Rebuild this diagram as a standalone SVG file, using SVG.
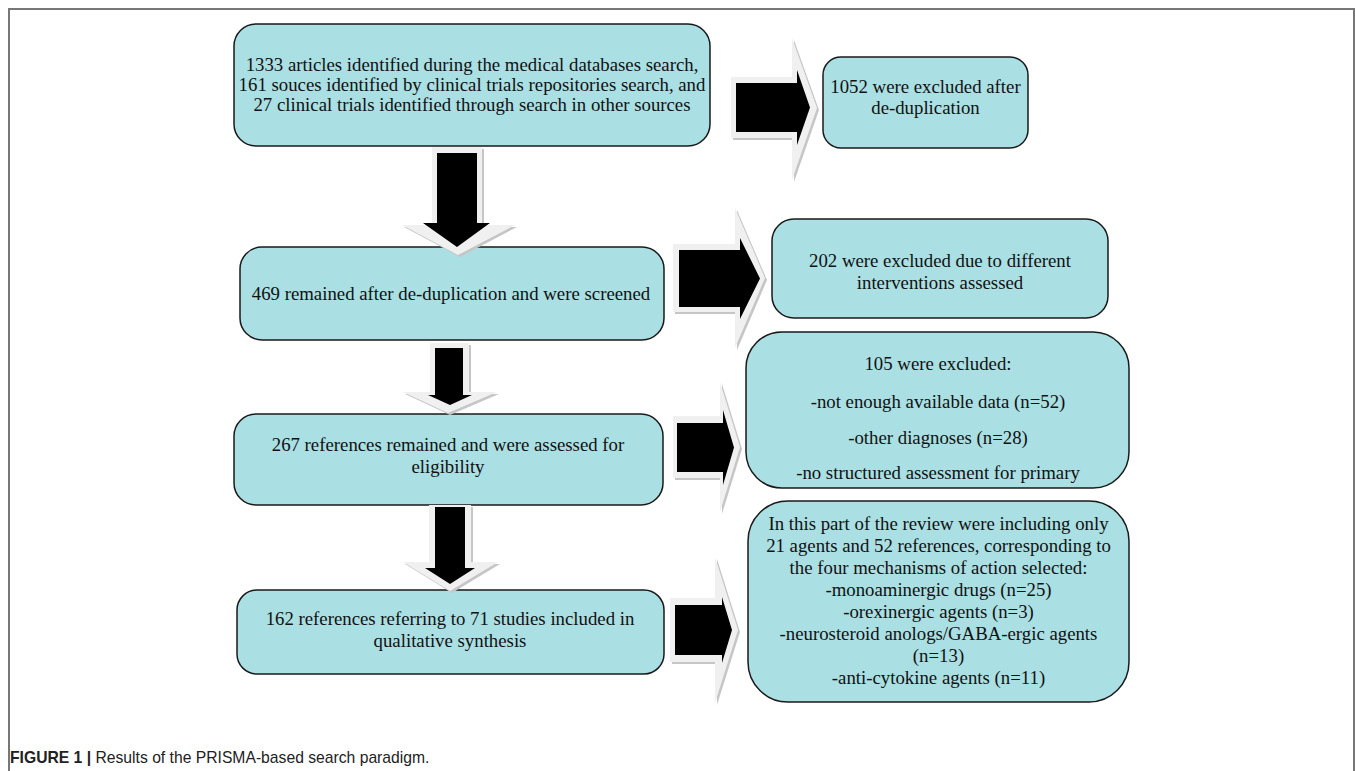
<svg xmlns="http://www.w3.org/2000/svg" width="1355" height="771" viewBox="0 0 1355 771">
<style>
.box{fill:#aadfe3;stroke:#1a1a1a;stroke-width:1.5}
.t{font-family:"Liberation Serif","Times New Roman",serif;font-size:18.8px;fill:#111;text-anchor:middle}
.glow{fill:#f0f0f0}
.sh{fill:#c6c6c6}
.blk{fill:#000}
.cap{font-family:"Liberation Sans",Arial,sans-serif;font-size:15.7px;fill:#222}
</style>
<rect x="0" y="0" width="1355" height="771" fill="#fff"/>
<path d="M9 771 V9 H1354 V771" fill="none" stroke="#777" stroke-width="2"/>

<g id="n1"><rect class="box" x="234" y="24" width="476" height="122" rx="22"/>
<text class="t" x="472" y="71">1333 articles identified during the medical databases search,</text>
<text class="t" x="472" y="91">161 souces identified by clinical trials repositories search, and</text>
<text class="t" x="472" y="111">27 clinical trials identified through search in other sources</text></g>

<g id="n2"><rect class="box" x="823" y="57" width="205" height="91" rx="18"/>
<text class="t" x="925.5" y="93">1052 were excluded after</text>
<text class="t" x="925.5" y="114">de-duplication</text></g>

<g id="n3"><rect class="box" x="240" y="247" width="424" height="93" rx="22"/>
<text class="t" x="451" y="300">469 remained after de-duplication and were screened</text></g>

<g id="n4"><rect class="box" x="772" y="219" width="336" height="99" rx="22"/>
<text class="t" x="940" y="267">202 were excluded due to different</text>
<text class="t" x="940" y="289">interventions assessed</text></g>

<g id="n5"><rect class="box" x="746" y="332" width="383" height="156" rx="36"/>
<text class="t" x="938" y="370">105 were excluded:</text>
<text class="t" x="938" y="408">-not enough available data (n=52)</text>
<text class="t" x="938" y="444">-other diagnoses (n=28)</text>
<text class="t" x="938" y="479">-no structured assessment for primary</text></g>

<g id="n6"><rect class="box" x="234" y="414" width="429" height="91" rx="22"/>
<text class="t" x="448" y="451">267 references remained and were assessed for</text>
<text class="t" x="448" y="473">eligibility</text></g>

<g id="n7"><rect class="box" x="748" y="501" width="381" height="201" rx="40"/>
<text class="t" x="938.5" y="530">In this part of the review were including only</text>
<text class="t" x="938.5" y="552">21 agents and 52 references, corresponding to</text>
<text class="t" x="938.5" y="574">the four mechanisms of action selected:</text>
<text class="t" x="938.5" y="596">-monoaminergic drugs (n=25)</text>
<text class="t" x="938.5" y="618">-orexinergic agents (n=3)</text>
<text class="t" x="938.5" y="640">-neurosteroid anologs/GABA-ergic agents</text>
<text class="t" x="938.5" y="662">(n=13)</text>
<text class="t" x="938.5" y="684">-anti-cytokine agents (n=11)</text></g>

<g id="n8"><rect class="box" x="237" y="590" width="427" height="84" rx="20"/>
<text class="t" x="450" y="625">162 references referring to 71 studies included in</text>
<text class="t" x="450" y="647">qualitative synthesis</text></g>

<g id="connectors">
<polygon class="sh" points="733,79 794,79 794,40 819,110 794,182 794,140 733,140"/>
<polygon class="glow" points="731,77 792,77 792,38 817,108 792,180 792,138 731,138"/>
<polygon class="blk" points="736,83 797,83 797,70 810,107.5 797,145 797,132 736,132"/>

<polygon class="sh" points="675,246 737,246 737,210 767,280 737,350 737,314 675,314"/>
<polygon class="glow" points="673,244 735,244 735,208 765,278 735,348 735,312 673,312"/>
<polygon class="blk" points="679,250 740,250 740,238 760,278.5 740,319 740,307 679,307"/>

<polygon class="sh" points="675,418 722,418 722,384 742,449 722,514 722,480 675,480"/>
<polygon class="glow" points="673,416 720,416 720,382 740,447 720,512 720,478 673,478"/>
<polygon class="blk" points="677,423 723,423 723,410 734,447.5 723,485 723,472 677,472"/>

<polygon class="sh" points="672,600 717,600 717,559 740,632 717,705 717,664 672,664"/>
<polygon class="glow" points="670,598 715,598 715,557 738,630 715,703 715,662 670,662"/>
<polygon class="blk" points="675,605 722,605 722,597 732,630 722,663 722,655 675,655"/>

<polygon class="sh" points="434,149 484,149 484,227 517,227 460,257 404,227 434,227"/>
<polygon class="glow" points="432,147 482,147 482,225 515,225 458,255 402,225 432,225"/>
<polygon class="blk" points="437,153 477,153 477,223 490,223 457,247 423,223 437,223"/>

<polygon class="sh" points="432,345 471,345 471,394 499,394 450,415 405,394 432,394"/>
<polygon class="glow" points="430,343 469,343 469,392 497,392 448,413 403,392 430,392"/>
<polygon class="blk" points="435,348 463,348 463,395 472,395 450,405 428,395 435,395"/>

<polygon class="sh" points="431,507 473,507 473,564 500,564 452,593 405,564 431,564"/>
<polygon class="glow" points="429,505 471,505 471,562 498,562 450,591 403,562 429,562"/>
<polygon class="blk" points="435,507 465,507 465,568 475,568 450,584 425,568 435,568"/>
</g>

<text class="cap" x="10" y="763"><tspan font-weight="bold">FIGURE 1 |</tspan> Results of the PRISMA-based search paradigm.</text>
</svg>
